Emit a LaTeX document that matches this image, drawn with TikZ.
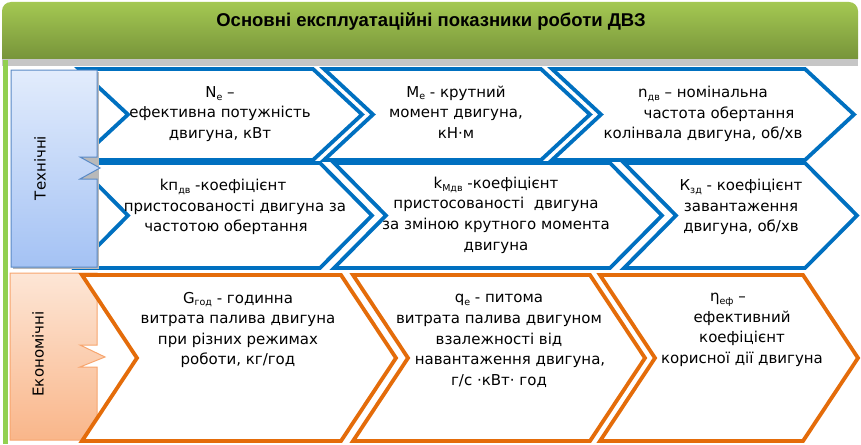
\documentclass[tikz,border=0pt]{standalone}
\usepackage{fontspec}
\setmainfont{DejaVu Sans}
\newfontfamily\titlefont{Liberation Sans}
\definecolor{cblue}{HTML}{0070C0}
\definecolor{corange}{HTML}{E46C0A}
\definecolor{gtop}{HTML}{A4C852}
\definecolor{gbot}{HTML}{77943A}
\definecolor{gstrip}{HTML}{92D050}
\definecolor{btop}{HTML}{E2ECFC}
\definecolor{bbot}{HTML}{A4C2F4}
\definecolor{bbord}{HTML}{5A8AC6}
\definecolor{otop}{HTML}{FDE6D6}
\definecolor{obot}{HTML}{F9B68A}
\definecolor{obord}{HTML}{F7A56E}
\newcommand\lsub[1]{\raisebox{-0.35ex}{\fontsize{9.5}{9.5}\selectfont #1}}
\newcommand\mychev[6]{\draw[#6] (#1,#3) -- (#2,#3) -- ({#2+#5},{(#3+#4)/2}) -- (#2,#4) -- (#1,#4) -- ({#1+#5},{(#3+#4)/2}) -- cycle;}
\begin{document}
\begin{tikzpicture}[x=1pt,y=-1pt,
  chevb/.style={draw=cblue, line width=3.8pt, fill=white, line join=miter},
  cheo/.style={draw=corange, line width=3.8pt, fill=white, line join=miter},
  txt/.style={align=center, font=\fontsize{15}{20.6}\selectfont, inner sep=0pt},
  vlab/.style={rotate=90, font=\fontsize{15}{18}\selectfont, inner sep=0pt}]
\useasboundingbox (0,0) rectangle (861,444);
\fill[white] (0,0) rectangle (861,444);
% title bar
\fill[gray!45] (2,58) rectangle (858,66);
\path[top color=gtop, bottom color=gbot] (2,59) [rounded corners=9pt] -- (2,2) -- (858,2) [sharp corners] -- (858,59) -- cycle;
\node[font=\titlefont\bfseries\fontsize{18.5}{20}\selectfont] (title) at (431,22) {Основні експлуатаційні показники роботи ДВЗ};
% left strip
\fill[gstrip] (3,60) rectangle (8,444);
% economic box
\path[draw=obord, line width=1pt, top color=otop, bottom color=obot] (10,273) -- (97,273) -- (97,345) -- (80,345) -- (105,357) -- (80,367) -- (97,367) -- (97,440) -- (10,440) -- cycle;
% orange chevrons
\mychev{82}{341}{275}{441}{55}{cheo}
\mychev{353}{590}{275}{441}{55}{cheo}
\mychev{600}{803}{275}{441}{55}{cheo}
% blue chevrons row 2
\mychev{76}{320}{163}{268}{52}{chevb}
\mychev{334}{610}{163}{268}{52}{chevb}
\mychev{624}{805}{163}{268}{52}{chevb}
% blue chevrons row 1
\mychev{79}{313}{69}{160}{49}{chevb}
\mychev{324}{541}{69}{160}{49}{chevb}
\mychev{552}{805}{69}{160}{49}{chevb}
% technical box
\fill[gray!55] (12.5,71.5) -- (98.5,71.5) -- (98.5,268.5) -- (12.5,268.5) -- cycle;
\path[draw=bbord, line width=1pt, top color=btop, bottom color=bbot] (11,70) -- (97,70) -- (97,157) -- (80,157) -- (100,168) -- (80,179) -- (97,179) -- (97,267) -- (11,267) -- cycle;
% category labels
\node[vlab] (tech) at (40,168) {Технічні};
\node[vlab] (econ) at (38,354) {Економічні};
% texts
\node[txt] (t1) at (220,114) {N\lsub{e} –\\ефективна потужність\\двигуна, кВт};
\node[txt] (t2) at (456,112) {M\lsub{e} - крутний\\момент двигуна,\\кН·м};
\node[txt] (t3) at (703,114) {n\lsub{дв} – номінальна\\\hspace*{32pt}частота обертання\\колінвала двигуна, об/хв};
\node[txt] (t4) at (235,207) {kп\lsub{дв} -коефіцієнт\hspace*{24pt}\\пристосованості двигуна за\\частотою обертання\hspace*{18pt}};
\node[txt] (t5) at (496,215) {k\lsub{Мдв} -коефіцієнт\\пристосованості\ \ двигуна\\за зміною крутного момента\\двигуна};
\node[txt] (t6) at (741,207) {К\lsub{зд} - коефіцієнт\\завантаження\\двигуна, об/хв};
\node[txt] (t7) at (238,330) {G\lsub{год} - годинна\\витрата палива двигуна\\при різних режимах\\роботи, кг/год};
\node[txt] (t8) at (499,341) {q\lsub{e} - питома\\витрата палива двигуном\\взалежності від\\\hspace*{22pt}навантаження двигуна,\\г/с ·кВт· год};
\node[txt] (t9) at (742,330) {η\lsub{еф} –\hspace*{28pt}\\ефективний\hspace*{28pt}\\коефіцієнт\hspace*{28pt}\\корисної дії двигуна};
\end{tikzpicture}
\end{document}
